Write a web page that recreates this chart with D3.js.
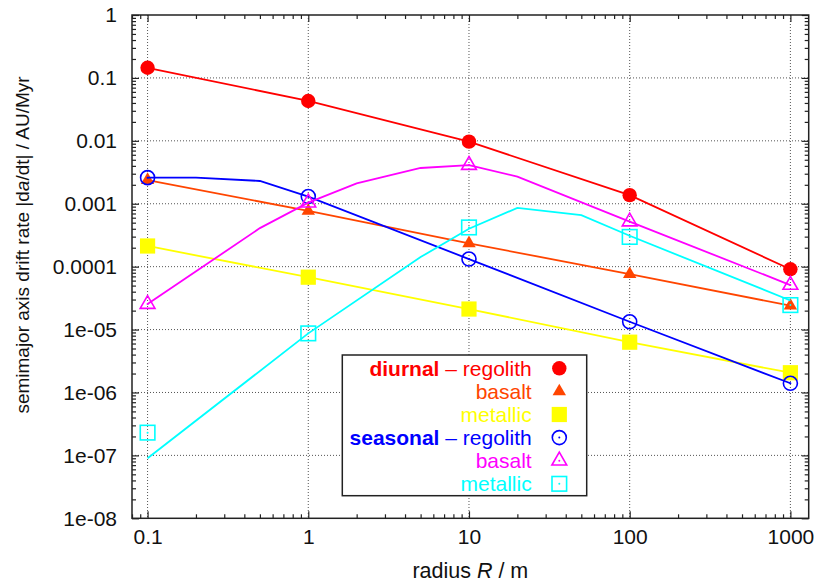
<!DOCTYPE html>
<html>
<head>
<meta charset="utf-8">
<script src="https://cdn.jsdelivr.net/npm/d3@7"></script>
<style>
  html, body { margin: 0; padding: 0; background: #fff; }
  svg { display: block; font-family: "Liberation Sans", Arial, Helvetica, sans-serif; }
</style>
</head>
<body>
<svg id="chart" width="816" height="582"></svg>
<script>
// ---------- data ----------
const xMajorTicks = [0.1, 1, 10, 100, 1000];
const xTickLabels = ["0.1", "1", "10", "100", "1000"];
const yMajorTicks = [1, 0.1, 0.01, 0.001, 0.0001, 1e-5, 1e-6, 1e-7, 1e-8];
const yTickLabels = ["1", "0.1", "0.01", "0.001", "0.0001", "1e-05", "1e-06", "1e-07", "1e-08"];

// marker positions (radius R / m)
const markerRadii = [0.1, 1, 10, 100, 1000];

// diurnal
const diurnalRegolithX = [0.1, 1, 10, 100, 1000];
const diurnalRegolithY = [0.145, 0.043, 0.0097, 0.00137, 9.1e-5];
const diurnalRegolithM = [0.145, 0.043, 0.0097, 0.00137, 9.1e-5];

const diurnalBasaltX = [0.1, 1, 10, 100, 1000];
const diurnalBasaltY = [0.00238, 0.00077, 0.000235, 7.6e-5, 2.4e-5];
const diurnalBasaltM = [0.00238, 0.00077, 0.000235, 7.6e-5, 2.4e-5];

const diurnalMetallicX = [0.1, 1, 10, 100, 1000];
const diurnalMetallicY = [0.000213, 6.8e-5, 2.12e-5, 6.3e-6, 2.06e-6];
const diurnalMetallicM = [0.000213, 6.8e-5, 2.12e-5, 6.3e-6, 2.06e-6];

// seasonal
const seasonalRegolithX = [0.1, 0.2, 0.5, 1, 10, 100, 1000];
const seasonalRegolithY = [0.0026, 0.0026, 0.0023, 0.0013, 0.000132, 1.33e-5, 1.4e-6];
const seasonalRegolithM = [0.0026, 0.0013, 0.000132, 1.33e-5, 1.4e-6];

const seasonalBasaltX = [0.1, 0.5, 1, 2, 5, 10, 20, 100, 1000];
const seasonalBasaltY = [2.54e-5, 0.00041, 0.00104, 0.0021, 0.0037, 0.00412, 0.00269, 0.00052, 5.1e-5];
const seasonalBasaltM = [2.54e-5, 0.00104, 0.00412, 0.00052, 5.1e-5];

const seasonalMetallicX = [0.1, 1, 5, 10, 20, 50, 100, 1000];
const seasonalMetallicY = [9e-8, 8.7e-6, 1.42e-4, 0.0004, 0.00086, 0.00066, 0.00031, 2.9e-5];
const seasonalMetallicM = [2.3e-7, 8.7e-6, 0.00042, 0.000297, 2.45e-5];

const seriesNames = ["diurnal-regolith", "diurnal-basalt", "diurnal-metallic",
                     "seasonal-regolith", "seasonal-basalt", "seasonal-metallic"];
const seriesColors = ["#ff0000", "#ff4500", "#ffff00", "#0000ff", "#ff00ff", "#00ffff"];
const seriesSymbols = ["circleFilled", "triangleFilled", "squareFilled",
                       "circleOpen", "triangleOpen", "squareOpen"];
const legendBold = ["diurnal", "", "", "seasonal", "", ""];
const legendText = [" \u2013 regolith", "basalt", "metallic", " \u2013 regolith", "basalt", "metallic"];

const series = [
  {x: diurnalRegolithX, y: diurnalRegolithY, m: diurnalRegolithM},
  {x: diurnalBasaltX, y: diurnalBasaltY, m: diurnalBasaltM},
  {x: diurnalMetallicX, y: diurnalMetallicY, m: diurnalMetallicM},
  {x: seasonalRegolithX, y: seasonalRegolithY, m: seasonalRegolithM},
  {x: seasonalBasaltX, y: seasonalBasaltY, m: seasonalBasaltM},
  {x: seasonalMetallicX, y: seasonalMetallicY, m: seasonalMetallicM}
].map((s, i) => ({...s, name: seriesNames[i], color: seriesColors[i], symbol: seriesSymbols[i]}));

// ---------- layout ----------
const pLeft = 132, pRight = 808.7, pTop = 15, pBottom = 518.3;
const svg = d3.select("#chart");

const x = d3.scaleLog().domain([0.08, 1300]).range([pLeft, pRight]);
const y = d3.scaleLog().domain([1e-8, 1]).range([pBottom, pTop]);

const minorOf = (lo, hi) => {
  const out = [];
  for (let e = lo; e < hi; e++) for (let k = 2; k <= 9; k++) {
    out.push(k * Math.pow(10, e));
  }
  return out;
};
const xMinor = minorOf(-2, 4).filter(v => v >= 0.08 && v <= 1300);
const yMinor = minorOf(-8, 0);

// ---------- grid ----------
const grid = svg.append("g").attr("stroke", "#555").attr("stroke-width", 1)
  .attr("stroke-dasharray", "1,2");
grid.selectAll(".gx").data(xMajorTicks).join("line")
  .attr("x1", d => x(d)).attr("x2", d => x(d)).attr("y1", pTop).attr("y2", pBottom);
grid.selectAll(".gy").data(yMajorTicks.filter(v => v < 1 && v > 1e-8)).join("line")
  .attr("y1", d => y(d)).attr("y2", d => y(d)).attr("x1", pLeft).attr("x2", pRight);

// ---------- axes ----------
const axisColor = "#222";
function styleAxis(g) {
  g.select(".domain").remove();
  g.selectAll(".tick line").attr("stroke", axisColor).attr("stroke-width", 1.2);
  g.selectAll("text").attr("fill", "#111").style("font-size", "21px")
    .style("font-family", '"Liberation Sans", Arial, sans-serif');
}
// bottom
svg.append("g").attr("transform", `translate(0,${pBottom})`)
  .call(d3.axisBottom(x).tickValues(xMajorTicks).tickSize(-7).tickPadding(11)
    .tickFormat((d, i) => xTickLabels[i]))
  .call(styleAxis);
svg.append("g").attr("transform", `translate(0,${pBottom})`)
  .call(d3.axisBottom(x).tickValues(xMinor).tickSize(-4).tickFormat(""))
  .call(styleAxis);
// top
svg.append("g").attr("transform", `translate(0,${pTop})`)
  .call(d3.axisTop(x).tickValues(xMajorTicks).tickSize(-7).tickFormat(""))
  .call(styleAxis);
svg.append("g").attr("transform", `translate(0,${pTop})`)
  .call(d3.axisTop(x).tickValues(xMinor).tickSize(-4).tickFormat(""))
  .call(styleAxis);
// left
svg.append("g").attr("transform", `translate(${pLeft},0)`)
  .call(d3.axisLeft(y).tickValues(yMajorTicks).tickSize(-7).tickPadding(15)
    .tickFormat((d, i) => yTickLabels[i]))
  .call(styleAxis);
svg.append("g").attr("transform", `translate(${pLeft},0)`)
  .call(d3.axisLeft(y).tickValues(yMinor).tickSize(-4).tickFormat(""))
  .call(styleAxis);
// right
svg.append("g").attr("transform", `translate(${pRight},0)`)
  .call(d3.axisRight(y).tickValues(yMajorTicks).tickSize(-7).tickFormat(""))
  .call(styleAxis);
svg.append("g").attr("transform", `translate(${pRight},0)`)
  .call(d3.axisRight(y).tickValues(yMinor).tickSize(-4).tickFormat(""))
  .call(styleAxis);

// frame
svg.append("rect").attr("x", pLeft).attr("y", pTop)
  .attr("width", pRight - pLeft).attr("height", pBottom - pTop)
  .attr("fill", "none").attr("stroke", axisColor).attr("stroke-width", 1.5);

// ---------- markers ----------
function drawSymbol(g, kind, color) {
  if (kind === "circleFilled") {
    g.append("circle").attr("r", 7.2).attr("fill", color);
  } else if (kind === "triangleFilled") {
    g.append("path").attr("d", d3.symbol(d3.symbolTriangle, 78)()).attr("fill", color);
  } else if (kind === "squareFilled") {
    g.append("rect").attr("x", -7.6).attr("y", -7.6).attr("width", 15.2).attr("height", 15.2).attr("fill", color);
  } else if (kind === "circleOpen") {
    g.append("circle").attr("r", 7).attr("fill", "none").attr("stroke", color).attr("stroke-width", 1.6);
    g.append("circle").attr("r", 1).attr("fill", color);
  } else if (kind === "triangleOpen") {
    g.append("path").attr("d", d3.symbol(d3.symbolTriangle, 95)()).attr("fill", "none")
      .attr("stroke", color).attr("stroke-width", 1.6);
    g.append("circle").attr("r", 1).attr("fill", color);
  } else if (kind === "squareOpen") {
    g.append("rect").attr("x", -7.3).attr("y", -7.3).attr("width", 14.6).attr("height", 14.6)
      .attr("fill", "none").attr("stroke", color).attr("stroke-width", 1.6);
    g.append("circle").attr("r", 1).attr("fill", color);
  }
}

// ---------- series ----------
const line = d3.line().x(d => x(d[0])).y(d => y(d[1]));
series.forEach(s => {
  const g = svg.append("g").attr("class", "series " + s.name);
  g.append("path").datum(s.x.map((v, i) => [v, s.y[i]]))
    .attr("d", line).attr("fill", "none").attr("stroke", s.color).attr("stroke-width", 1.8)
    .attr("stroke-linejoin", "miter");
  markerRadii.forEach((r, i) => {
    const mg = g.append("g").attr("transform", `translate(${x(r)},${y(s.m[i])})`);
    drawSymbol(mg, s.symbol, s.color);
  });
});

// ---------- legend ----------
const lgLeft = 342.3, lgTop = 355, lgRight = 586.7, lgBottom = 495.7;
const lg = svg.append("g");
lg.append("rect").attr("x", lgLeft).attr("y", lgTop)
  .attr("width", lgRight - lgLeft).attr("height", lgBottom - lgTop)
  .attr("fill", "#fff").attr("stroke", "#222").attr("stroke-width", 1.5);
const rowY0 = 368.3, rowStep = 23.1, textRight = 531.7, symX = 559.3;
series.forEach((s, i) => {
  const cy = rowY0 + i * rowStep;
  const t = lg.append("text").attr("x", textRight).attr("y", cy).attr("dy", "0.36em")
    .attr("text-anchor", "end").attr("fill", s.color).style("font-size", "21px");
  if (legendBold[i]) t.append("tspan").attr("font-weight", "bold").text(legendBold[i]);
  t.append("tspan").text(legendText[i]);
  const mg = lg.append("g").attr("transform", `translate(${symX},${cy})`);
  drawSymbol(mg, s.symbol, s.color);
});

// ---------- axis titles ----------
const xt = svg.append("text").attr("x", (pLeft + pRight) / 2).attr("y", 578)
  .attr("text-anchor", "middle").attr("fill", "#111").style("font-size", "21.5px");
xt.append("tspan").text("radius ");
xt.append("tspan").attr("font-style", "italic").text("R");
xt.append("tspan").text(" / m");

const yt = svg.append("text")
  .attr("transform", `translate(29,245) rotate(-90)`)
  .attr("text-anchor", "middle").attr("fill", "#111").style("font-size", "19px");
yt.append("tspan").text("semimajor axis drift rate |d");
yt.append("tspan").attr("font-style", "italic").text("a");
yt.append("tspan").text("/dt| / AU/Myr");
</script>
</body>
</html>
